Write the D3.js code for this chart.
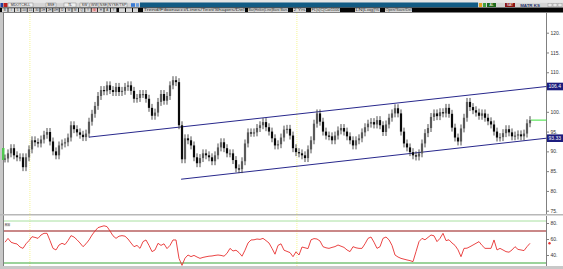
<!DOCTYPE html>
<html><head><meta charset="utf-8">
<script src="https://cdn.jsdelivr.net/npm/d3@7/dist/d3.min.js"></script>
<style>html,body{margin:0;padding:0;background:#fff;overflow:hidden}svg{display:block}</style>
</head><body><svg id="c" width="563" height="269"></svg>
<script>
// ---- data ----
const closes = [88.2,89.5,90.8,89,88.5,88.5,86,88.5,90.5,92.8,92.3,92,93,94.2,94.9,92.5,90,89,91.5,92,
92.3,93.5,96.6,95.6,94.8,94.2,93.6,94.5,97.5,99.5,101.5,104,105.5,105.2,106.7,105.5,105,106.3,105,105.3,
106.3,106.7,105.3,103.3,103.5,104.5,104.5,103.3,101,99,99.8,102.5,104.5,102.8,104,106.7,108,107.5,96.6,88,
93.3,92.8,91.5,88.5,87,88.3,89.5,89,88.5,87.5,89,91,92.3,90.8,89.5,89.5,87.8,85.7,85.5,87.5,
92,94.8,94.7,94.8,95.9,96.6,97.4,96.1,95,93.3,91.5,91.8,93.5,95.5,95.7,94,90.8,89.8,89.5,89,
88.3,90.5,92.8,97,99.6,97.5,95,94,93.8,92.8,94,95.3,95.9,95,93.8,92.8,91.5,92.8,93.3,94.8,
96.1,97,97.4,96.8,97.9,96.6,94.9,96.8,98.5,99.6,100.9,99.6,95,92,91,89.8,89,88.7,89.5,92,
94.6,95.9,98.7,99.6,98.9,99.9,99.6,101,99.5,96,93.5,92.5,95.8,98.5,102.5,101.2,100.4,99.8,99,99.6,
98.5,97.6,96.8,95,93.5,93.6,94.6,95.6,94.8,93.8,94,94.3,93.8,94.5,97.1,97.9];
const rsi = [56,60.8,56,54.6,53.8,50,48.3,54,58,62.9,62,60.8,65,67.1,67.1,58,48.3,46.3,52.5,54.6,
53,58,64.2,62.5,59,55,50.4,54,58.8,65,70,74.2,75.4,76.5,75.5,70,64,60.8,63.5,64.2,
63.5,60,55,50.4,52,48.3,56.7,58.8,52,44.2,46.3,54.6,52,54,48,52,58.8,58.8,35.8,27,
36,40,38,39.5,37.5,35.8,37,37.8,38.5,38.8,39.5,40,39.5,38.5,42.1,48.3,45,46,43,38.5,
46,55,58.8,59,60,59.5,60.8,58,55,48.3,41,52,54,46,44.5,43,37.9,44,40,50,
49,48,59,60.5,60,57.5,50.4,49,48.3,49.5,50.5,52.5,51,49.5,46.3,44.2,50.4,49,48.3,48.3,
54,60.8,62.5,56,48.3,50.4,60.8,62.5,59,52,40,37.5,35.8,34.8,33.8,33,31.7,44.2,56.7,60.8,
59,62,65,64,56.7,60.8,67.1,58,59,55,52,46.5,37.9,48.3,48.5,50.4,52.5,54.6,56.7,52,
48.3,48.3,48.3,58.8,46.3,48.3,46.3,44.2,43.5,46.3,50.4,47,46.3,45.5,50.4,54.6];
const priceTicks = [75,80,85,90,95,100,105,110,115,120];
const rsiTicks = [40,60,80];
const rsiLevels = [70,30];
const channelUpper = [[28,93.6],[180.5,106.4]];
const channelLower = [[58.7,82.96],[180.5,93.33]];
const markerDays = [8.3,97.3];
const toolbarRow1 = ["MDOTCELL","BSE","TL","SW","WW","NSE","NYSE/TSP"];
const toolbarRow2 = ["B","I","5","10","15","30","1H","2H","4H","D","W","M","Q","Y","G","H","A","Y"];
const toolbarRow2b = ["Trend/Fibonacci/Lines/Text/Shapes/Del","Bar|Heikin|Line|Baro","Bars","2 Yrs","FL|s|C|Cat1100","LN|Log|%","Open/Save/Del"];

// ---- setup ----
const svg = d3.select("#c");
const AX = 546.5;
const x = d3.scaleLinear().domain([0, closes.length-1]).range([5, 530]);
const y = d3.scaleLinear().domain([75,120]).range([210.7, 32.7]);
const yr = d3.scaleLinear().domain([30,70]).range([263, 231]);
const font = "Liberation Sans, Arial, sans-serif";

// toolbar
svg.append("rect").attr("x",0).attr("y",0).attr("width",563).attr("height",2.5).attr("fill","#e6e6e6");
svg.append("rect").attr("x",0).attr("y",2.5).attr("width",563).attr("height",5).attr("fill","#d4d4d4");
svg.append("rect").attr("x",140).attr("y",2.5).attr("width",338).attr("height",5).attr("fill","#125b84");
svg.append("rect").attr("x",0).attr("y",7.5).attr("width",563).attr("height",5).attr("fill","#050505");
svg.append("rect").attr("x",0.5).attr("y",3).attr("width",2.5).attr("height",4).attr("fill","#2040a0");
svg.append("rect").attr("x",3.5).attr("y",3).attr("width",4).attr("height",4).attr("fill","#c02020");
const r1x = [8,46,64,80,90,99,108], r1w=[25,10,12,9,9,9,19];
toolbarRow1.forEach((t,i)=>{
  svg.append("rect").attr("x",r1x[i]).attr("y",3).attr("width",r1w[i]).attr("height",4).attr("fill","#eeeeee").attr("stroke","#777").attr("stroke-width",0.4);
  svg.append("text").attr("x",r1x[i]+r1w[i]/2).attr("y",6.4).attr("text-anchor","middle").attr("font-size",3.6).attr("font-family",font).attr("fill","#222").text(t);
});
svg.append("rect").attr("x",131).attr("y",3.2).attr("width",4).attr("height",3.6).attr("fill","#3a7bd5");
svg.append("rect").attr("x",136).attr("y",3.2).attr("width",3).attr("height",3.6).attr("fill","#6aa0e0");
// right icons
svg.append("rect").attr("x",479).attr("y",3).attr("width",3).attr("height",4).attr("fill","#e0a020");
svg.append("rect").attr("x",483).attr("y",3).attr("width",3).attr("height",4).attr("fill","#40a040");
svg.append("rect").attr("x",487).attr("y",3).attr("width",9).attr("height",4).attr("fill","#1e6a1e");
svg.append("text").attr("x",491.5).attr("y",6.3).attr("text-anchor","middle").attr("font-size",3.4).attr("font-family",font).attr("fill","#fff").text("AL");
svg.append("rect").attr("x",505).attr("y",3).attr("width",10).attr("height",4).attr("fill","#8a1414");
svg.append("text").attr("x",510).attr("y",6.3).attr("text-anchor","middle").attr("font-size",3.4).attr("font-family",font).attr("fill","#fff").text("SAT");
svg.append("text").attr("x",530).attr("y",6.6).attr("text-anchor","middle").attr("font-size",4.4).attr("font-weight","bold").attr("font-family",font).attr("fill","#24306a").text("MATR KS");
[548,553,558].forEach(v=>svg.append("rect").attr("x",v).attr("y",3.2).attr("width",4).attr("height",3.6).attr("fill","#e8e8e8").attr("stroke","#888").attr("stroke-width",0.4));
// row 2
toolbarRow2.forEach((t,i)=>{
  const bx = 2 + i*6.4;
  svg.append("rect").attr("x",bx).attr("y",8.2).attr("width",5.6).attr("height",3.8).attr("fill",i===14?"#e8c0c0":"#d8d8d8");
  svg.append("text").attr("x",bx+2.8).attr("y",11.2).attr("text-anchor","middle").attr("font-size",3).attr("font-family",font).attr("fill",i===14?"#c00":"#333").text(t);
});
[[119,6],[126,6],[133,5]].forEach(([bx,w])=>svg.append("rect").attr("x",bx).attr("y",8.2).attr("width",w).attr("height",3.8).attr("fill","#d8d8d8"));
const r2x=[143,248,280,293,311,355,385], r2w=[102,32,8,13,29,25,27];
toolbarRow2b.forEach((t,i)=>{
  svg.append("rect").attr("x",r2x[i]).attr("y",8.2).attr("width",r2w[i]).attr("height",3.8).attr("fill","#d8d8d8");
  svg.append("text").attr("x",r2x[i]+r2w[i]/2).attr("y",11.2).attr("text-anchor","middle").attr("font-size",3).attr("font-family",font).attr("fill","#333")
    .attr("textLength",r2w[i]-1).attr("lengthAdjust","spacingAndGlyphs").text(t);
});

// panel frames
svg.append("rect").attr("x",0).attr("y",12.5).attr("width",3).attr("height",254).attr("fill","#c8c8c8");
svg.append("line").attr("x1",3.5).attr("x2",3.5).attr("y1",12.5).attr("y2",266).attr("stroke","#808080").attr("stroke-width",1);
svg.append("rect").attr("x",2).attr("y",148).attr("width",2.5).attr("height",12).attr("fill","#50c850");
svg.append("rect").attr("x",0).attr("y",214).attr("width",563).attr("height",1.5).attr("fill","#b8b8b8");
svg.append("rect").attr("x",0).attr("y",266).attr("width",563).attr("height",3).attr("fill","#c8c8c8");

// yellow markers
markerDays.forEach(d=>{
  svg.append("line").attr("x1",x(d)).attr("x2",x(d)).attr("y1",13).attr("y2",266)
    .attr("stroke","#f2f27a").attr("stroke-width",0.8).attr("stroke-dasharray","1,1");
});

// price axis
const yAxisG = svg.append("g").attr("transform",`translate(${AX},0)`);
const boxVals = [channelUpper[1][1], channelLower[1][1]];
const shownTicks = priceTicks.filter(t => boxVals.every(b => Math.abs(y(t)-y(b))>6));
yAxisG.call(d3.axisRight(y).tickValues(shownTicks).tickSize(2.5).tickFormat(d=>d+"."));
yAxisG.select(".domain").attr("stroke","#808080").attr("d",`M0,13V214`);
yAxisG.selectAll(".tick line").attr("stroke","#808080");
yAxisG.selectAll(".tick text").attr("font-size",5).attr("font-family",font).attr("fill","#333").attr("x",4);

// channel lines
const line = d3.line().x(d=>x(d[0])).y(d=>y(d[1]));
[channelUpper, channelLower].forEach(ch=>{
  svg.append("path").attr("d",line(ch)).attr("fill","none").attr("stroke","#28288c").attr("stroke-width",1);
});

// candles
const g = svg.append("g");
closes.forEach((c,i)=>{
  const o = i===0 ? c : closes[i-1];
  const hi = Math.max(o,c)+1.0, lo = Math.min(o,c)-1.0;
  const cx = x(i);
  g.append("line").attr("x1",cx).attr("x2",cx).attr("y1",y(hi)).attr("y2",y(lo)).attr("stroke","#3a3a3a").attr("stroke-width",0.9);
  const top = y(Math.max(o,c)), h = Math.max(1.2, Math.abs(y(o)-y(c)));
  g.append("rect").attr("x",cx-1.1).attr("y",top).attr("width",2.2).attr("height",h)
    .attr("fill", c<o ? "#0a0a0a" : "#5a5a5a");
});

// last price line
svg.append("line").attr("x1",x(closes.length-1)+1).attr("x2",AX).attr("y1",y(closes[closes.length-1])).attr("y2",y(closes[closes.length-1]))
  .attr("stroke","#3ce03c").attr("stroke-width",1);

// channel value boxes
boxVals.forEach(v=>{
  svg.append("rect").attr("x",AX+0.5).attr("y",y(v)-3.8).attr("width",16).attr("height",7.6).attr("fill","#1c1c7e");
  svg.append("text").attr("x",AX+2).attr("y",y(v)+1.8).attr("font-size",5).attr("font-family",font).attr("fill","#fff").text(v);
});

// RSI panel
svg.append("line").attr("x1",4).attr("x2",AX).attr("y1",221).attr("y2",221).attr("stroke","#a8e0a0").attr("stroke-width",1);
svg.append("line").attr("x1",4).attr("x2",AX).attr("y1",yr(rsiLevels[0])).attr("y2",yr(rsiLevels[0])).attr("stroke","#b86060").attr("stroke-width",1.4);
svg.append("line").attr("x1",4).attr("x2",AX).attr("y1",yr(rsiLevels[1])).attr("y2",yr(rsiLevels[1])).attr("stroke","#38a838").attr("stroke-width",1.2);
svg.append("rect").attr("x",4.5).attr("y",223.5).attr("width",5.5).attr("height",3).attr("fill","#ddd");
svg.append("text").attr("x",5).attr("y",226.2).attr("font-size",3).attr("font-family",font).attr("fill","#444").text("RSI");
const rAxisG = svg.append("g").attr("transform",`translate(${AX},0)`);
rAxisG.call(d3.axisRight(yr).tickValues(rsiTicks).tickSize(2.5).tickFormat(d=>d+"."));
rAxisG.select(".domain").attr("stroke","#808080").attr("d","M0,216V266");
rAxisG.selectAll(".tick line").attr("stroke","#808080");
rAxisG.selectAll(".tick text").attr("font-size",5).attr("font-family",font).attr("fill","#333").attr("x",4);
const rline = d3.line().x((d,i)=>x(i)).y(d=>yr(d));
svg.append("path").attr("d",rline(rsi)).attr("fill","none").attr("stroke","#e83030").attr("stroke-width",0.9);
svg.append("circle").attr("cx",AX+3).attr("cy",yr(rsi[rsi.length-1])).attr("r",1.2).attr("fill","#e83030");
</script></body></html>
